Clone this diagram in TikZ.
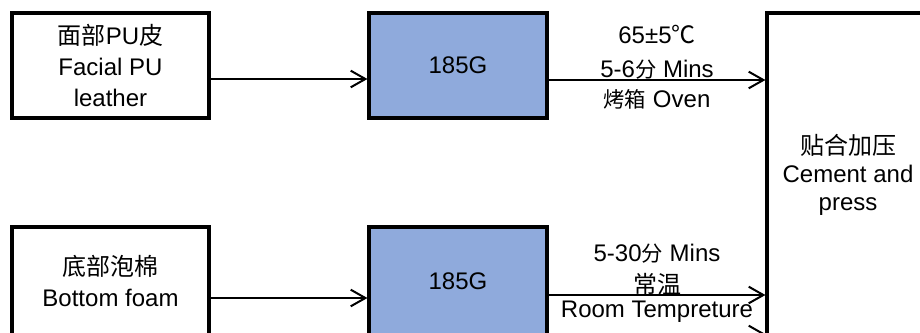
\documentclass[tikz,border=0pt]{standalone}
\usepackage{fontspec}
\setmainfont{Liberation Sans}
\newfontfamily\cjk{Noto Sans CJK SC}
\usetikzlibrary{arrows.meta}
\definecolor{boxblue}{RGB}{143,170,220}
\begin{document}
\begin{tikzpicture}[x=0.75pt,y=-0.75pt,
  box/.style={draw=black, line width=2.4pt, align=center, inner sep=0pt,
    font=\fontsize{18}{23.25}\selectfont},
  srcbox/.style={box, fill=white, minimum width=147.75pt, minimum height=78.75pt},
  gluebox/.style={box, fill=boxblue, minimum width=133.5pt, minimum height=78.75pt},
  arr/.style={line width=1.7pt, -{Straight Barb[length=11pt,width=12.5pt,line width=1.5pt]}},
  lbl/.style={inner sep=0pt, anchor=base, font=\fontsize{18}{23.25}\selectfont}]
\useasboundingbox (0,0) rectangle (920,332);
\clip (0,0) rectangle (920,332);
% top row
\node[srcbox] (s1) at (110.5,65.5) {{\cjk 面部}PU{\cjk 皮}\\Facial PU\\leather};
\node[gluebox] (g1) at (458,65.5) {185G};
% right box
\node[box, fill=white, minimum width=121.5pt, minimum height=243pt,
  font=\fontsize{18}{21}\selectfont] (p) at (848,175) {{\cjk 贴合加压}\\Cement and\\press};
% bottom row
\node[srcbox, minimum height=81pt] (s2) at (110.5,281) {{\cjk 底部泡棉}\\Bottom foam};
\node[gluebox, minimum height=81pt] (g2) at (458,281) {185G};
% arrows
\draw[arr] (s1.east |- 0,79) -- (g1.west |- 0,79);
\draw[arr] (g1.east |- 0,80) --
  node[lbl, yshift=27.75pt] {65±5{\cjk ℃}}
  node[lbl, yshift=2.25pt] {5-6{\fontsize{16}{20}\cjk 分} Mins}
  node[lbl, yshift=-20.25pt] {{\fontsize{16}{20}\cjk 烤箱} Oven}
  (p.west |- 0,80);
\draw[arr] (s2.east |- 0,298) -- (g2.west |- 0,298);
\draw[arr] (g2.east |- 0,295) --
  node[lbl, yshift=25.1pt] {5-30{\fontsize{16}{20}\cjk 分} Mins}
  node[lbl, yshift=1.5pt] {{\cjk 常温}}
  node[lbl, yshift=-16.5pt] {Room Tempreture}
  (p.west |- 0,295);
\draw[arr] (g2.east |- 0,334) -- (p.west |- 0,334);
\end{tikzpicture}
\end{document}
